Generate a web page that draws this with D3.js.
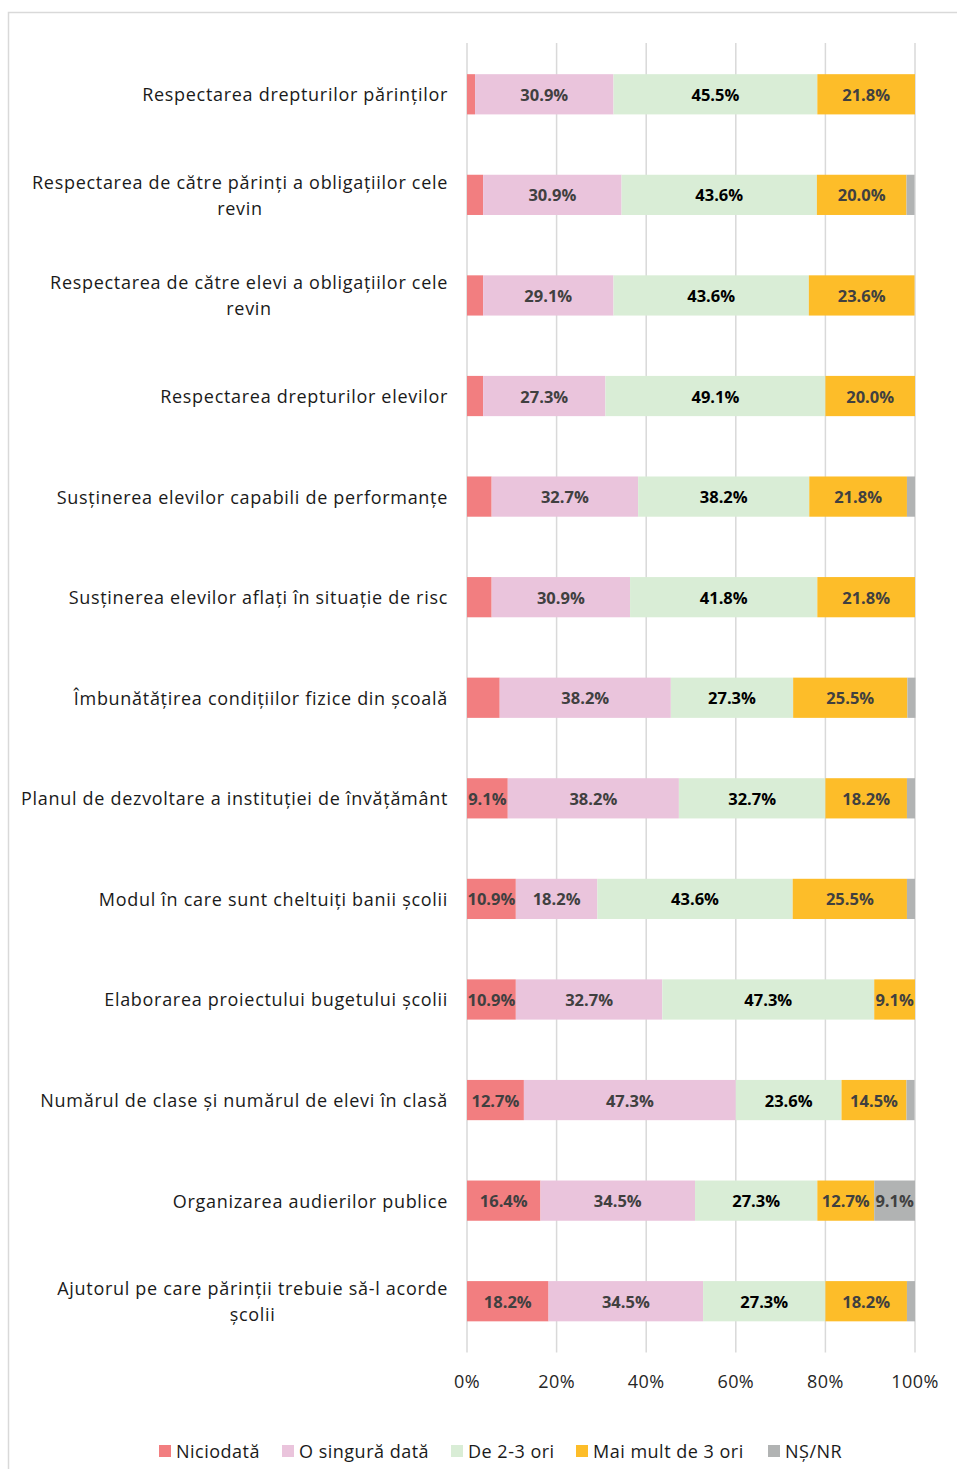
<!DOCTYPE html>
<html>
<head>
<meta charset="utf-8">
<script src="https://cdn.jsdelivr.net/npm/d3@7"></script>
<style>
  body { margin: 0; background: #fff; }
  svg text { font-family: "Open Sans", "Noto Sans", sans-serif; }
</style>
</head>
<body>
<div id="chart"></div>
<script>
// Categories (top to bottom), "\n" marks a wrapped line
const categories = [
    "Respectarea drepturilor părinților",
    "Respectarea de către părinți a obligațiilor cele\nrevin",
    "Respectarea de către elevi a obligațiilor cele\nrevin",
    "Respectarea drepturilor elevilor",
    "Susținerea elevilor capabili de performanțe",
    "Susținerea elevilor aflați în situație de risc",
    "Îmbunătățirea condițiilor fizice din școală",
    "Planul de dezvoltare a instituției de învățământ",
    "Modul în care sunt cheltuiți banii școlii",
    "Elaborarea proiectului bugetului școlii",
    "Numărul de clase și numărul de elevi în clasă",
    "Organizarea audierilor publice",
    "Ajutorul pe care părinții trebuie să-l acorde\nșcolii"
];

const seriesNames = ["Niciodată", "O singură dată", "De 2-3 ori", "Mai mult de 3 ori", "NȘ/NR"];

// values in percent, one per category
const niciodata    = [1.8, 3.6, 3.6, 3.6, 5.5, 5.5, 7.3, 9.1, 10.9, 10.9, 12.7, 16.4, 18.2];
const oSinguraData = [30.9, 30.9, 29.1, 27.3, 32.7, 30.9, 38.2, 38.2, 18.2, 32.7, 47.3, 34.5, 34.5];
const de2la3       = [45.5, 43.6, 43.6, 49.1, 38.2, 41.8, 27.3, 32.7, 43.6, 47.3, 23.6, 27.3, 27.3];
const maiMultDe3   = [21.8, 20.0, 23.6, 20.0, 21.8, 21.8, 25.5, 18.2, 25.5, 9.1, 14.5, 12.7, 18.2];
const nsNr         = [0, 1.8, 0, 0, 1.8, 0, 1.8, 1.8, 1.8, 0, 1.8, 9.1, 1.8];

const xTicks = [0, 20, 40, 60, 80, 100];

const colors = ["#F27E80", "#EAC4DC", "#D9EDD6", "#FDBD29", "#B1B3B3"];
const labelColors = ["#404040", "#404040", "#000000", "#404040", "#404040"];

// Build table for the stack layout
const keys = ["s0", "s1", "s2", "s3", "s4"];
const allSeries = [niciodata, oSinguraData, de2la3, maiMultDe3, nsNr];
const table = categories.map((c, i) => {
    const row = { cat: c };
    keys.forEach((k, j) => row[k] = allSeries[j][i]);
    return row;
});

const width = 957, height = 1469;
const margin = { top: 44, right: 42, bottom: 117.5, left: 467 };

const svg = d3.select("#chart").append("svg")
    .attr("width", width)
    .attr("height", height);

// chart frame
svg.append("rect")
    .attr("x", 8.5).attr("y", 12.5)
    .attr("width", 1000).attr("height", 1500)
    .attr("fill", "none")
    .attr("stroke", "#d9d9d9")
    .attr("stroke-width", 1.5);

const x = d3.scaleLinear()
    .domain([0, 100])
    .range([margin.left, width - margin.right]);

const y = d3.scaleBand()
    .domain(categories)
    .range([margin.top, height - margin.bottom])
    .paddingInner(0.6)
    .paddingOuter(0.3);

// gridlines
svg.append("g")
    .selectAll("line")
    .data(xTicks)
    .join("line")
    .attr("x1", d => x(d)).attr("x2", d => x(d))
    .attr("y1", margin.top - 1).attr("y2", height - margin.bottom + 1)
    .attr("stroke", "#d9d9d9")
    .attr("stroke-width", 1.5);

const stack = d3.stack().keys(keys);
const stacked = stack(table);

const layers = svg.append("g")
    .selectAll("g")
    .data(stacked)
    .join("g")
    .attr("fill", (d, i) => colors[i]);

layers.selectAll("rect")
    .data(d => d)
    .join("rect")
    .attr("x", d => x(d[0]))
    .attr("y", d => y(d.data.cat))
    .attr("width", d => x(d[1]) - x(d[0]))
    .attr("height", y.bandwidth());

// data labels
stacked.forEach((layer, i) => {
    svg.append("g")
        .selectAll("text")
        .data(layer.filter(d => d[1] - d[0] >= 9))
        .join("text")
        .attr("x", d => (x(d[0]) + x(d[1])) / 2)
        .attr("y", d => y(d.data.cat) + y.bandwidth() / 2)
        .attr("text-anchor", "middle")
        .attr("dominant-baseline", "central")
        .attr("font-size", "16.5px")
        .attr("font-weight", "bold")
        .attr("fill", labelColors[i])
        .text(d => (d[1] - d[0]).toFixed(1) + "%");
});

// category labels
const lineH = 26;
const catG = svg.append("g");
categories.forEach(c => {
    const lines = c.split("\n");
    const cy = y(c) + y.bandwidth() / 2;
    const t = catG.append("text")
        .attr("font-size", "18px")
        .attr("letter-spacing", "0.7px")
        .attr("fill", "#1a1a1a")
        .attr("text-anchor", "middle")
        .attr("dominant-baseline", "central");
    lines.forEach((ln, k) => {
        t.append("tspan")
            .attr("y", cy + (k - (lines.length - 1) / 2) * lineH)
            .text(ln);
    });
    // right-align the block, center lines within it
    const w = d3.max(t.selectAll("tspan").nodes(), n => n.getComputedTextLength());
    t.selectAll("tspan").attr("x", margin.left - 19 - w / 2);
});

// x axis tick labels
svg.append("g")
    .selectAll("text")
    .data(xTicks)
    .join("text")
    .attr("x", d => x(d))
    .attr("y", height - margin.bottom + 29)
    .attr("text-anchor", "middle")
    .attr("dominant-baseline", "central")
    .attr("font-size", "18px")
    .attr("letter-spacing", "0.4px")
    .attr("fill", "#262626")
    .text(d => d + "%");

// legend
const legendX = [159, 282, 451, 576, 768];
const legend = svg.append("g")
    .selectAll("g")
    .data(seriesNames)
    .join("g")
    .attr("transform", (d, i) => `translate(${legendX[i]},1451)`);

legend.append("rect")
    .attr("x", 0).attr("y", -6)
    .attr("width", 12).attr("height", 12)
    .attr("fill", (d, i) => colors[i]);

legend.append("text")
    .attr("x", 17)
    .attr("y", 0)
    .attr("dominant-baseline", "central")
    .attr("font-size", "18px")
    .attr("letter-spacing", "0.5px")
    .attr("fill", "#1a1a1a")
    .text(d => d);
</script>
</body>
</html>
